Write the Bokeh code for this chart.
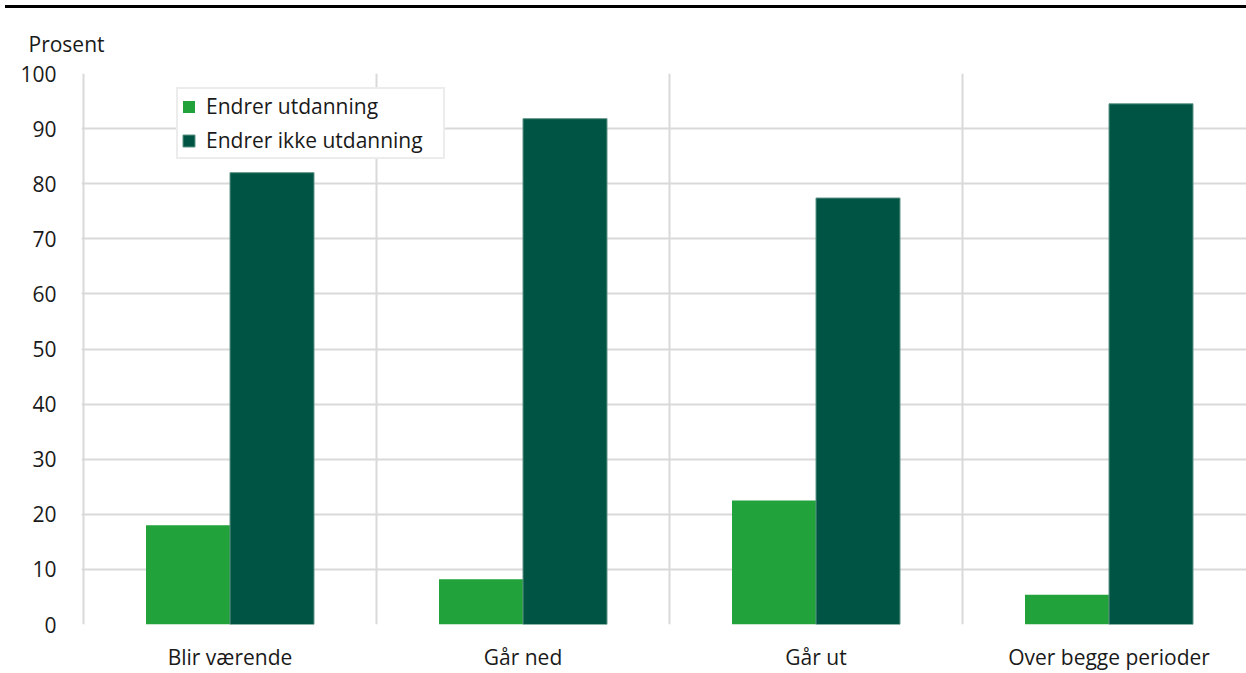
from bokeh.plotting import figure
from bokeh.models import (Range1d, FixedTicker, Legend, LegendItem, Div)
from bokeh.layouts import column
from bokeh.embed import file_html
from bokeh.resources import INLINE

categories = ["Blir værende", "Går ned", "Går ut", "Over begge perioder"]
endrer = [18.0, 8.2, 22.5, 5.4]
endrer_ikke = [82.0, 91.8, 77.4, 94.5]
series_names = ["Endrer utdanning", "Endrer ikke utdanning"]
y_ticks = [0, 10, 20, 30, 40, 50, 60, 70, 80, 90, 100]

FONT = "Open Sans"
TXT = "#1a1a1a"
GRID = "#d9d9d9"
LIGHT = "#22a23a"
DARK = "#005443"
FS = "21px"

W, H = 1246, 673
RULE_TOP, RULE_H = 5, 3
FIG_H = H - RULE_TOP - RULE_H
LEFT, BOTTOM = 81, 48
TOP = 73 - RULE_TOP - RULE_H
CAT_PX = 293.0
PAD = 2.0 / CAT_PX

rule = Div(text="", width=W - 5, height=RULE_H, margin=(RULE_TOP, 0, 0, 5),
           styles={"background-color": "black"})

p = figure(width=W, height=FIG_H, output_backend="svg", toolbar_location=None,
           min_border_left=LEFT, min_border_right=0, min_border_top=TOP,
           min_border_bottom=BOTTOM, title="Prosent")
p.x_range = Range1d(-PAD, (W - LEFT) / CAT_PX - PAD)
p.y_range = Range1d(0, 100)
p.outline_line_color = None
p.background_fill_color = "white"
p.border_fill_color = "white"

p.title.align = "left"
p.title.offset = 28 - LEFT
p.title.text_font = FONT
p.title.text_font_size = FS
p.title.text_font_style = "normal"
p.title.text_color = TXT
p.title.standoff = 31

centers = [i + 0.5 for i in range(len(categories))]
bw = 84.0 / CAT_PX
x_light = [c - bw / 2 for c in centers]
x_dark = [c + bw / 2 for c in centers]

r1 = p.vbar(x=x_light, top=endrer, width=bw, bottom=0, fill_color=LIGHT, line_color=None)
r2 = p.vbar(x=x_dark, top=endrer_ikke, width=bw, bottom=0, fill_color=DARK,
            line_color="#5f9487", line_width=1)

# axes
p.xaxis.ticker = FixedTicker(ticks=centers)
p.xaxis.major_label_overrides = {c: n for c, n in zip(centers, categories)}
p.xaxis.axis_line_color = None
p.xaxis.major_tick_line_color = None
p.xaxis.minor_tick_line_color = None
p.xaxis.major_label_text_font = FONT
p.xaxis.major_label_text_font_size = FS
p.xaxis.major_label_text_color = TXT
p.xaxis.major_label_standoff = 12

p.yaxis.ticker = FixedTicker(ticks=y_ticks)
p.yaxis.axis_line_color = None
p.yaxis.major_tick_line_color = None
p.yaxis.minor_tick_line_color = None
p.yaxis.major_label_text_font = FONT
p.yaxis.major_label_text_font_size = FS
p.yaxis.major_label_text_color = TXT
p.yaxis.major_label_standoff = 19

p.xgrid.ticker = FixedTicker(ticks=[0, 1, 2, 3])
p.xgrid.grid_line_color = GRID
p.xgrid.grid_line_width = 2
p.ygrid.ticker = FixedTicker(ticks=y_ticks)
p.ygrid.grid_line_color = GRID
p.ygrid.grid_line_width = 2

# legend
legend = Legend(items=[LegendItem(label=series_names[0], renderers=[r1]),
                       LegendItem(label=series_names[1], renderers=[r2])],
                location=(95, 465))
legend.label_text_font = FONT
legend.label_text_font_size = FS
legend.label_text_color = TXT
legend.glyph_width = 15
legend.glyph_height = 15
legend.label_height = 24
legend.label_width = 234
legend.spacing = 6
legend.padding = 3
legend.label_standoff = 10
legend.border_line_color = GRID
legend.border_line_width = 2
legend.background_fill_alpha = 1
legend.margin = 0
p.add_layout(legend)

layout = column(rule, p, spacing=0)
open("out.html", "w").write(file_html(layout, INLINE))
